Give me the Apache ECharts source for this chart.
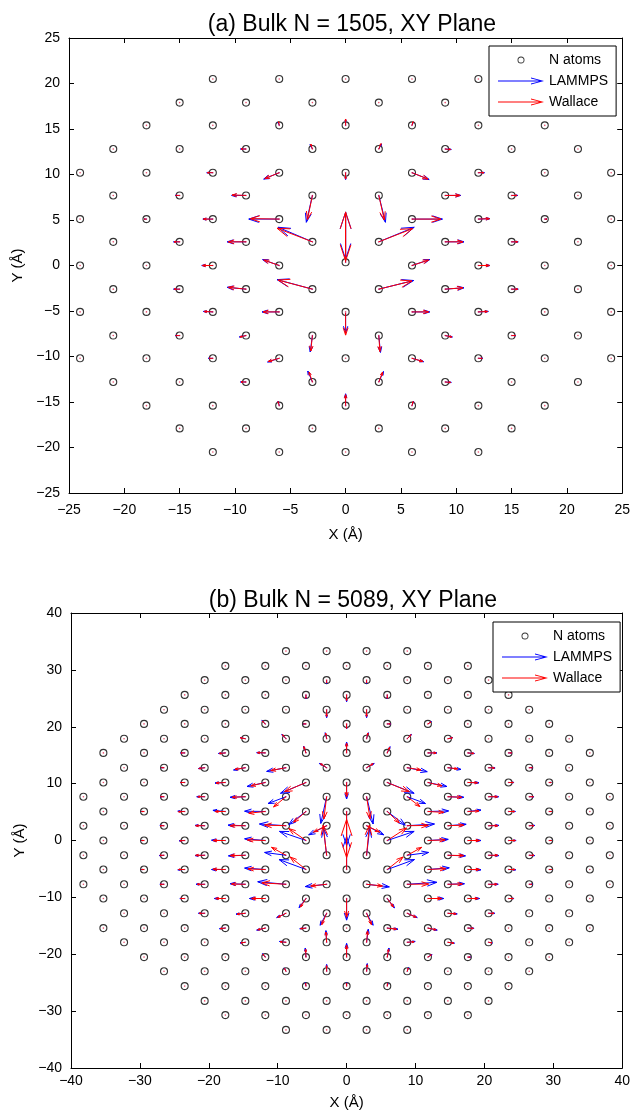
<!DOCTYPE html>
<html><head><meta charset="utf-8">
<script src="https://cdn.jsdelivr.net/npm/echarts@6/dist/echarts.min.js"></script>
<style>html,body{margin:0;padding:0;background:#fff}#c{width:633px;height:1117px}</style>
</head><body><div id="c"></div>
<script>
// ---------- Panel (a): Bulk N = 1505 ----------
const titleA = '(a) Bulk N = 1505, XY Plane';
const ticksA = [-25, 25, 5];
const rowsA_y = [20.5, 17.9, 15.4, 12.8, 10.2, 7.7, 5.1, 2.6, 0, -2.6, -5.1, -7.7, -10.2, -12.8, -15.4, -17.9, -20.5];
const rowsA_x = [
  [-12,-6,0,6,12],
  [-15,-9,-3,3,9,15],
  [-18,-12,-6,0,6,12,18],
  [-21,-15,-9,-3,3,9,15,21],
  [-24,-18,-12,-6,0,6,12,18,24],
  [-21,-15,-9,-3,3,9,15,21],
  [-24,-18,-12,-6,6,12,18,24],
  [-21,-15,-9,-3,3,9,15,21],
  [-24,-18,-12,-6,6,12,18,24],
  [-21,-15,-9,-3,3,9,15,21],
  [-24,-18,-12,-6,0,6,12,18,24],
  [-21,-15,-9,-3,3,9,15,21],
  [-24,-18,-12,-6,0,6,12,18,24],
  [-21,-15,-9,-3,3,9,15,21],
  [-18,-12,-6,0,6,12,18],
  [-15,-9,-3,3,9,15],
  [-12,-6,0,6,12]
];
const extraAtomsA = [[0, 0.35]];
// [x, y, dx, dy]
const lammpsA = [
  [0,15.4,0,0.65],[-6,15.4,-0.1,0.35],[6,15.4,0.1,0.35],
  [-9,12.8,-0.5,0],[-3,12.8,-0.2,0.5],[3,12.8,0.25,0.55],[9,12.8,0.55,-0.05],
  [-12,10.2,-0.55,0],[-6,10.2,-1.4,-0.7],[0,10.2,0,-0.75],[6,10.2,1.55,-0.75],[12,10.2,0.55,0],
  [-15,7.7,-0.4,0],[-9,7.7,-1.3,0],[-3,7.7,-0.55,-2.95],[3,7.7,0.6,-2.95],[9,7.7,1.4,0],[15,7.7,0.55,0],
  [-18,5.1,-0.2,0],[-12,5.1,-0.9,0],[-6,5.1,-2.75,0],[6,5.1,2.75,0],[12,5.1,1.05,0.05],[18,5.1,0.2,0],
  [-15,2.6,-0.55,0],[-9,2.6,-1.7,0],[-3,2.6,-3.1,1.6],[3,2.6,3.2,1.6],[9,2.6,1.7,0],[15,2.6,0.6,0],
  [-12,0,-1.0,0],[-6,0,-1.5,0.65],[0,0.35,0,5.5],[0,5.9,0,-5.2],[6,0,1.6,0.65],[12,0,1.05,0],
  [-15,-2.6,-0.55,0],[-9,-2.6,-1.7,0.2],[-3,-2.6,-3.2,1.05],[3,-2.6,3.15,0.95],[9,-2.6,1.7,0.15],[15,-2.6,0.6,0],
  [-12,-5.1,-0.85,0.05],[-6,-5.1,-1.55,0],[0,-5.2,0,-2.2],[6,-5.1,1.6,0],[12,-5.1,0.9,0.05],
  [-15,-7.7,-0.4,0],[-9,-7.7,-0.6,-0.15],[-3,-7.7,-0.2,-1.8],[3,-7.7,0.15,-1.85],[9,-7.7,0.65,-0.15],[15,-7.7,0.4,0],
  [-12,-10.2,-0.4,0],[-6,-10.2,-1.05,-0.4],[6,-10.2,1.05,-0.37],[12,-10.2,0.4,0],
  [-9,-12.8,-0.5,0],[-3,-12.8,-0.42,1.2],[3,-12.8,0.42,1.15],[9,-12.8,0.55,-0.05],
  [-6,-15.4,-0.1,0.5],[0,-15.4,0,1.3],[6,-15.4,0.15,0.5]
];
const wallaceA = [
  [0,15.4,0,0.7],[-6,15.4,-0.05,0.4],[6,15.4,0.1,0.4],
  [-9,12.8,-0.45,0],[-3,12.8,-0.15,0.55],[3,12.8,0.2,0.6],[9,12.8,0.5,-0.05],
  [-12,10.2,-0.5,0],[-6,10.2,-1.3,-0.65],[0,10.2,0,-0.7],[6,10.2,1.45,-0.7],[12,10.2,0.5,0],
  [-15,7.7,-0.35,0],[-9,7.7,-1.25,0.05],[-3,7.7,-0.45,-2.65],[3,7.7,0.5,-2.7],[9,7.7,1.35,0],[15,7.7,0.5,0],
  [-18,5.1,-0.2,0],[-12,5.1,-0.85,0],[-6,5.1,-2.6,0.05],[6,5.1,2.6,0],[12,5.1,1.0,0.05],[18,5.1,0.2,0],
  [-15,2.6,-0.5,0],[-9,2.6,-1.6,0],[-3,2.6,-3.2,1.5],[3,2.6,3.05,1.45],[9,2.6,1.6,0],[15,2.6,0.55,0],
  [-12,0,-0.95,0],[-6,0,-1.4,0.6],[0,0.35,0,5.5],[0,5.9,0,-5.4],[6,0,1.5,0.6],[12,0,1.0,0],
  [-15,-2.6,-0.5,0],[-9,-2.6,-1.6,0.2],[-3,-2.6,-3.1,1.0],[3,-2.6,3.0,0.9],[9,-2.6,1.6,0.15],[15,-2.6,0.55,0],
  [-12,-5.1,-0.8,0.05],[-6,-5.1,-1.45,0],[0,-5.2,0,-2.45],[6,-5.1,1.5,0],[12,-5.1,0.85,0.05],
  [-15,-7.7,-0.35,0],[-9,-7.7,-0.55,-0.15],[-3,-7.7,-0.15,-1.7],[3,-7.7,0.1,-1.75],[9,-7.7,0.6,-0.15],[15,-7.7,0.35,0],
  [-12,-10.2,-0.35,0],[-6,-10.2,-1.0,-0.35],[6,-10.2,1.0,-0.35],[12,-10.2,0.35,0],
  [-9,-12.8,-0.45,0],[-3,-12.8,-0.3,1.1],[3,-12.8,0.35,1.1],[9,-12.8,0.5,-0.05],
  [-6,-15.4,-0.1,0.45],[0,-15.4,0,1.2],[6,-15.4,0.1,0.45]
];

// ---------- Panel (b): Bulk N = 5089 ----------
const titleB = '(b) Bulk N = 5089, XY Plane';
const ticksB = [-40, 40, 10];
const rowsB_y = [33.3,30.7,28.2,25.6,23.0,20.5,17.9,15.4,12.8,10.2,7.7,5.1,2.6,0,-2.6,-5.1,-7.7,-10.2,-12.8,-15.4,-17.9,-20.5,-23.0,-25.6,-28.2,-30.7,-33.3];
const rowsB_x = [
  [-8.8,-2.9,2.9,8.8],
  [-17.6,-11.8,-5.9,0,5.9,11.8,17.6],
  [-20.6,-14.7,-8.8,-2.9,2.9,8.8,14.7,20.6],
  [-23.5,-17.6,-11.8,-5.9,0,5.9,11.8,17.6,23.5],
  [-26.5,-20.6,-14.7,-8.8,-2.9,2.9,8.8,14.7,20.6,26.5],
  [-29.4,-23.5,-17.6,-11.8,-5.9,0,5.9,11.8,17.6,23.5,29.4],
  [-32.3,-26.5,-20.6,-14.7,-8.8,-2.9,2.9,8.8,14.7,20.6,26.5,32.3],
  [-35.3,-29.4,-23.5,-17.6,-11.8,-5.9,0,5.9,11.8,17.6,23.5,29.4,35.3],
  [-32.3,-26.5,-20.6,-14.7,-8.8,-2.9,2.9,8.8,14.7,20.6,26.5,32.3],
  [-35.3,-29.4,-23.5,-17.6,-11.8,-5.9,0,5.9,11.8,17.6,23.5,29.4,35.3],
  [-38.2,-32.3,-26.5,-20.6,-14.7,-8.8,-2.9,2.9,8.8,14.7,20.6,26.5,32.3,38.2],
  [-35.3,-29.4,-23.5,-17.6,-11.8,-5.9,0,5.9,11.8,17.6,23.5,29.4,35.3],
  [-38.2,-32.3,-26.5,-20.6,-14.7,-8.8,-2.9,2.9,8.8,14.7,20.6,26.5,32.3,38.2],
  [-35.3,-29.4,-23.5,-17.6,-11.8,-5.9,5.9,11.8,17.6,23.5,29.4,35.3],
  [-38.2,-32.3,-26.5,-20.6,-14.7,-8.8,-2.9,2.9,8.8,14.7,20.6,26.5,32.3,38.2],
  [-35.3,-29.4,-23.5,-17.6,-11.8,-5.9,0,5.9,11.8,17.6,23.5,29.4,35.3],
  [-38.2,-32.3,-26.5,-20.6,-14.7,-8.8,-2.9,2.9,8.8,14.7,20.6,26.5,32.3,38.2],
  [-35.3,-29.4,-23.5,-17.6,-11.8,-5.9,0,5.9,11.8,17.6,23.5,29.4,35.3],
  [-32.3,-26.5,-20.6,-14.7,-8.8,-2.9,2.9,8.8,14.7,20.6,26.5,32.3],
  [-35.3,-29.4,-23.5,-17.6,-11.8,-5.9,0,5.9,11.8,17.6,23.5,29.4,35.3],
  [-32.3,-26.5,-20.6,-14.7,-8.8,-2.9,2.9,8.8,14.7,20.6,26.5,32.3],
  [-29.4,-23.5,-17.6,-11.8,-5.9,0,5.9,11.8,17.6,23.5,29.4],
  [-26.5,-20.6,-14.7,-8.8,-2.9,2.9,8.8,14.7,20.6,26.5],
  [-23.5,-17.6,-11.8,-5.9,0,5.9,11.8,17.6,23.5],
  [-20.6,-14.7,-8.8,-2.9,2.9,8.8,14.7,20.6],
  [-17.6,-11.8,-5.9,0,5.9,11.8,17.6],
  [-8.8,-2.9,2.9,8.8]
];
const lammpsB = [
  [-2.9,28.2,0,-0.6],[2.9,28.2,0,-0.6],
  [-5.9,25.6,0,-0.7],[0,25.6,0,-1.2],[5.9,25.6,0,-0.7],
  [-2.9,23.0,0,-1.4],[2.9,23.0,0,-1.4],
  [-11.8,20.5,-0.5,0.6],[-5.9,20.5,-0.4,0],[0,20.5,0,-0.9],[5.9,20.5,0.5,0],[11.8,20.5,0.5,0.4],
  [-14.7,17.9,-0.75,0.2],[-8.8,17.9,-0.6,0.75],[-2.9,17.9,-0.2,1.05],[2.9,17.9,0.25,1.05],[8.8,17.9,0.6,0.75],[14.7,17.9,0.7,0.2],
  [-23.5,15.4,-0.6,0],[-17.6,15.4,-1.0,-0.1],[-11.8,15.4,-1.25,0.05],[-5.9,15.4,-0.35,1.2],[0,15.4,0,1.9],[5.9,15.4,0.4,1.1],[11.8,15.4,1.3,0],[17.6,15.4,0.95,-0.1],[23.5,15.4,0.5,0],
  [-26.5,12.8,-0.4,0],[-20.6,12.8,-0.9,-0.15],[-14.7,12.8,-1.7,-0.4],[-8.8,12.8,-2.8,-0.65],[-2.9,12.8,-1.05,0.75],[2.9,12.8,1.1,0.75],[8.8,12.8,2.9,-0.7],[14.7,12.8,1.9,-0.3],[20.6,12.8,0.95,-0.05],[26.5,12.8,0.5,0],
  [-23.5,10.2,-0.67,0],[-17.6,10.2,-1.5,-0.1],[-11.8,10.2,-2.65,-0.7],[-5.9,10.2,-3.7,-1.9],[0,10.2,0,-2.9],[5.9,10.2,3.9,-1.9],[11.8,10.2,2.75,-0.7],[17.6,10.2,1.6,-0.05],[23.5,10.2,0.8,0],[29.4,10.2,0.3,0],
  [-26.5,7.7,-0.58,0],[-20.6,7.7,-1.15,0],[-14.7,7.7,-2.2,-0.1],[-8.8,7.7,-2.6,-1.2],[-2.9,7.7,-0.85,-4.7],[2.9,7.7,0.95,-4.8],[8.8,7.7,2.65,-1.2],[14.7,7.7,2.3,-0.1],[20.6,7.7,1.45,0],[26.5,7.7,0.7,0],
  [-29.4,5.1,-0.4,0],[-23.5,5.1,-1.0,0.05],[-17.6,5.1,-1.8,0.2],[-11.8,5.1,-3.0,0.05],[-5.9,5.1,-2.5,-2.3],[0,5.1,0,-6.0],[5.9,5.1,2.6,-2.4],[11.8,5.1,3.0,0.1],[17.6,5.1,1.9,0.25],[23.5,5.1,1.0,0],[29.4,5.1,0.4,0],
  [-26.5,2.6,-0.6,0.05],[-20.6,2.6,-1.4,0.05],[-14.7,2.6,-2.5,0.1],[-8.8,2.6,-3.85,0.3],[-2.9,2.6,-2.6,-1.6],[2.9,2.6,2.5,-1.6],[8.8,2.6,3.95,0.3],[14.7,2.6,2.65,0.25],[20.6,2.6,1.5,0.05],[26.5,2.6,0.8,0.05],
  [-29.4,0,-0.4,0],[-23.5,0,-0.8,-0.05],[-17.6,0,-2.0,0.05],[-11.8,0,-3.0,0.3],[-5.9,0,-3.85,1.6],[5.9,0,3.9,1.6],[11.8,0,2.95,0.2],[17.6,0,1.9,0],[23.5,0,1.1,0],[29.4,0,0.4,0],
  [-26.5,-2.6,-0.7,-0.05],[-20.6,-2.6,-1.4,-0.05],[-14.7,-2.6,-2.45,-0.1],[-8.8,-2.6,-3.1,0.5],[-2.9,-2.6,-0.45,4.7],[2.9,-2.6,0.45,4.7],[8.8,-2.6,3.1,0.5],[14.7,-2.6,2.55,-0.1],[20.6,-2.6,1.5,-0.05],[26.5,-2.6,0.8,-0.05],
  [-29.4,-5.1,-0.4,0],[-23.5,-5.1,-1.0,-0.05],[-17.6,-5.1,-2.0,0],[-11.8,-5.1,-3.0,0.25],[-5.9,-5.1,-3.9,1.75],[0,-5.1,0,5.8],[5.9,-5.1,3.95,1.75],[11.8,-5.1,3.1,0.3],[17.6,-5.1,1.9,-0.05],[23.5,-5.1,1.05,-0.05],[29.4,-5.1,0.4,0],
  [-26.5,-7.7,-0.6,0],[-20.6,-7.7,-1.25,0],[-14.7,-7.7,-2.2,0.1],[-8.8,-7.7,-4.1,0.45],[-2.9,-7.7,-3.1,-0.4],[2.9,-7.7,3.3,-0.45],[8.8,-7.7,4.3,0.35],[14.7,-7.7,2.4,0.1],[20.6,-7.7,1.4,0],[26.5,-7.7,0.45,0],
  [-23.5,-10.2,-0.7,0],[-17.6,-10.2,-1.6,0],[-11.8,-10.2,-2.3,0],[-5.9,-10.2,-1.0,-1.6],[0,-10.2,0,-3.8],[5.9,-10.2,1.05,-1.65],[11.8,-10.2,2.3,0],[17.6,-10.2,1.7,0],[23.5,-10.2,0.8,0],
  [-20.6,-12.8,-0.9,0],[-14.7,-12.8,-1.35,-0.15],[-8.8,-12.8,-1.35,-0.75],[-2.9,-12.8,-0.95,-2.1],[2.9,-12.8,0.95,-2.1],[8.8,-12.8,1.45,-0.75],[14.7,-12.8,1.35,-0.1],[20.6,-12.8,0.9,0],
  [-17.6,-15.4,-0.85,-0.1],[-11.8,-15.4,-1.25,-0.35],[-5.9,-15.4,-0.9,-0.1],[5.9,-15.4,1.55,-0.2],[11.8,-15.4,1.35,-0.35],[17.6,-15.4,0.9,-0.05],
  [-14.7,-17.9,-0.75,-0.1],[-8.8,-17.9,-0.95,0.15],[-2.9,-17.9,-0.1,2.05],[2.9,-17.9,0.25,2.3],[8.8,-17.9,1.15,0.15],[14.7,-17.9,0.95,-0.15],[20.6,-17.9,0.55,-0.1],
  [-11.8,-20.5,-0.4,0.6],[-5.9,-20.5,-0.1,1.6],[0,-20.5,0,2.4],[5.9,-20.5,0.25,1.6],[11.8,-20.5,0.6,0.45],[17.6,-20.5,0.4,0],
  [-8.8,-23.0,-0.25,0.6],[-2.9,-23.0,0,1.2],[2.9,-23.0,0.1,1.35],[8.8,-23.0,0.2,0.65],
  [-5.9,-25.6,-0.1,0.6],[0,-25.6,0,0.6],[5.9,-25.6,0.1,0.5]
];
const wallaceB = [
  [-2.9,28.2,0,-0.5],[2.9,28.2,0,-0.5],
  [-5.9,25.6,0,-0.6],[0,25.6,0,-1.0],[5.9,25.6,0,-0.6],
  [-2.9,23.0,0,-1.2],[2.9,23.0,0,-1.2],
  [-11.8,20.5,-0.45,0.5],[-5.9,20.5,-0.35,0],[0,20.5,0,-0.8],[5.9,20.5,0.45,0],[11.8,20.5,0.45,0.35],
  [-14.7,17.9,-0.7,0.15],[-8.8,17.9,-0.5,0.7],[-2.9,17.9,-0.15,1.0],[2.9,17.9,0.2,1.0],[8.8,17.9,0.55,0.7],[14.7,17.9,0.65,0.15],
  [-23.5,15.4,-0.55,0],[-17.6,15.4,-0.9,-0.1],[-11.8,15.4,-1.15,0.05],[-5.9,15.4,-0.3,1.1],[0,15.4,0,1.7],[5.9,15.4,0.35,1.0],[11.8,15.4,1.2,0],[17.6,15.4,0.9,-0.1],[23.5,15.4,0.45,0],
  [-26.5,12.8,-0.35,0],[-20.6,12.8,-0.85,-0.15],[-14.7,12.8,-1.5,-0.3],[-8.8,12.8,-2.2,-0.5],[-2.9,12.8,-0.9,0.7],[2.9,12.8,0.95,0.7],[8.8,12.8,2.0,-0.4],[14.7,12.8,1.4,-0.2],[20.6,12.8,0.85,-0.05],[26.5,12.8,0.45,0],
  [-23.5,10.2,-0.6,0],[-17.6,10.2,-1.35,-0.1],[-11.8,10.2,-2.1,-0.6],[-5.9,10.2,-3.1,-1.6],[0,10.2,0,-2.5],[5.9,10.2,3.2,-1.6],[11.8,10.2,2.05,-0.6],[17.6,10.2,1.4,-0.05],[23.5,10.2,0.7,0],[29.4,10.2,0.3,0],
  [-26.5,7.7,-0.5,0],[-20.6,7.7,-1.0,0],[-14.7,7.7,-1.9,-0.1],[-8.8,7.7,-1.8,-1.8],[-2.9,7.7,-0.4,-3.9],[2.9,7.7,0.5,-3.9],[8.8,7.7,1.85,-1.75],[14.7,7.7,2.0,-0.1],[20.6,7.7,1.3,0],[26.5,7.7,0.6,0],
  [-29.4,5.1,-0.35,0],[-23.5,5.1,-0.9,-0.05],[-17.6,5.1,-1.5,0],[-11.8,5.1,-2.4,-0.3],[-5.9,5.1,-1.8,-1.9],[0,5.1,0,-8.1],[5.9,5.1,1.75,-2.0],[11.8,5.1,2.3,-0.15],[17.6,5.1,1.6,0.1],[23.5,5.1,0.9,0],[29.4,5.1,0.35,0],
  [-26.5,2.6,-0.55,0],[-20.6,2.6,-1.3,0],[-14.7,2.6,-2.2,0],[-8.8,2.6,-3.1,0.1],[-2.9,2.6,-1.9,-1.1],[2.9,2.6,1.9,-1.1],[8.8,2.6,3.05,0.05],[14.7,2.6,2.3,0.1],[20.6,2.6,1.35,0],[26.5,2.6,0.7,0],
  [-29.4,0,-0.35,0],[-23.5,0,-0.7,-0.05],[-17.6,0,-1.8,0],[-11.8,0,-2.6,0.1],[-5.9,0,-2.5,2.1],[5.9,0,2.8,2.2],[11.8,0,2.5,0.1],[17.6,0,1.7,0],[23.5,0,1.0,0],[29.4,0,0.35,0],
  [-26.5,-2.6,-0.6,0],[-20.6,-2.6,-1.3,0],[-14.7,-2.6,-2.2,-0.05],[-8.8,-2.6,-2.1,1.4],[-2.9,-2.6,-0.5,5.3],[2.9,-2.6,0.4,5.3],[8.8,-2.6,2.1,1.4],[14.7,-2.6,2.3,-0.05],[20.6,-2.6,1.35,0],[26.5,-2.6,0.7,0],
  [-29.4,-5.1,-0.35,0],[-23.5,-5.1,-0.9,0],[-17.6,-5.1,-1.8,0.05],[-11.8,-5.1,-2.5,0.1],[-5.9,-5.1,-2.3,2.2],[0,-5.1,0,8.8],[5.9,-5.1,2.3,2.2],[11.8,-5.1,2.6,0.15],[17.6,-5.1,1.7,0],[23.5,-5.1,0.95,0],[29.4,-5.1,0.35,0],
  [-26.5,-7.7,-0.55,0],[-20.6,-7.7,-1.1,0],[-14.7,-7.7,-2.0,0.05],[-8.8,-7.7,-3.5,0.25],[-2.9,-7.7,-2.3,-0.3],[2.9,-7.7,2.3,-0.3],[8.8,-7.7,3.1,0.05],[14.7,-7.7,2.1,0.05],[20.6,-7.7,1.25,0],[26.5,-7.7,0.4,0],
  [-23.5,-10.2,-0.6,0],[-17.6,-10.2,-1.4,0],[-11.8,-10.2,-2.0,0],[-5.9,-10.2,-0.8,-1.5],[0,-10.2,0,-3.3],[5.9,-10.2,0.9,-1.5],[11.8,-10.2,2.0,0],[17.6,-10.2,1.5,0],[23.5,-10.2,0.7,0],
  [-20.6,-12.8,-0.8,0],[-14.7,-12.8,-1.2,-0.15],[-8.8,-12.8,-1.2,-0.7],[-2.9,-12.8,-0.7,-2.0],[2.9,-12.8,0.7,-2.0],[8.8,-12.8,1.3,-0.7],[14.7,-12.8,1.2,-0.1],[20.6,-12.8,0.8,0],
  [-17.6,-15.4,-0.75,-0.1],[-11.8,-15.4,-1.1,-0.3],[-5.9,-15.4,-0.8,-0.1],[5.9,-15.4,1.35,-0.2],[11.8,-15.4,1.2,-0.3],[17.6,-15.4,0.8,-0.05],
  [-14.7,-17.9,-0.65,-0.1],[-8.8,-17.9,-0.85,0.1],[-2.9,-17.9,-0.1,1.8],[2.9,-17.9,0.15,2.0],[8.8,-17.9,1.0,0.1],[14.7,-17.9,0.85,-0.15],[20.6,-17.9,0.5,-0.1],
  [-11.8,-20.5,-0.35,0.5],[-5.9,-20.5,-0.05,1.4],[0,-20.5,0,2.1],[5.9,-20.5,0.2,1.4],[11.8,-20.5,0.5,0.4],[17.6,-20.5,0.35,0],
  [-8.8,-23.0,-0.2,0.5],[-2.9,-23.0,0,1.0],[2.9,-23.0,0.1,1.15],[8.8,-23.0,0.15,0.55],
  [-5.9,-25.6,-0.05,0.5],[0,-25.6,0,0.5],[5.9,-25.6,0.05,0.45]
];

const legendNames = ['N atoms', 'LAMMPS', 'Wallace'];
const axisNameX = 'X (Å)';
const axisNameY = 'Y (Å)';

// ---------- helpers ----------
function atomsFrom(rowsY, rowsX, extra) {
  const out = [];
  rowsX.forEach((xs, i) => xs.forEach(x => out.push([x, rowsY[i]])));
  (extra || []).forEach(p => out.push(p));
  return out;
}
const atomsA = atomsFrom(rowsA_y, rowsA_x, extraAtomsA);
const atomsB = atomsFrom(rowsB_y, rowsB_x, []);

const BLUE = '#0000ff', RED = '#ff0000';
const FONT = '"Liberation Sans", Arial, Helvetica, sans-serif';

function arrowRender(color) {
  return function (params, api) {
    const x = api.value(0), y = api.value(1), dx = api.value(2), dy = api.value(3);
    const p0 = api.coord([x, y]);
    const p1 = api.coord([x + dx, y + dy]);
    const ux = p1[0] - p0[0], uy = p1[1] - p0[1];
    const a = 0.33, b = 0.33;
    const h1 = [p1[0] - a * (ux + b * uy), p1[1] - a * (uy - b * ux)];
    const h2 = [p1[0] - a * (ux - b * uy), p1[1] - a * (uy + b * ux)];
    const st = { stroke: color, lineWidth: 1, fill: null };
    return {
      type: 'group',
      children: [
        { type: 'polyline', shape: { points: [p0, p1] }, style: st },
        { type: 'polyline', shape: { points: [h1, p1, h2] }, style: st }
      ]
    };
  };
}
const fmt = v => (v < 0 ? '\u2212' + Math.abs(v) : String(v));

function xAxes(grid, t, gap, margin) {
  const common = {
    gridIndex: grid, type: 'value', min: t[0], max: t[1], interval: t[2],
    axisLine: { onZero: false, lineStyle: { color: '#000', width: 1 } },
    axisTick: { inside: true, length: 5, lineStyle: { color: '#000' } },
    splitLine: { show: false }
  };
  return [
    Object.assign({}, common, {
      position: 'bottom',
      axisLabel: { color: '#000', fontSize: 14, fontFamily: FONT, margin: margin, formatter: fmt },
      name: axisNameX, nameLocation: 'middle', nameGap: gap,
      nameTextStyle: { color: '#000', fontSize: 15, fontFamily: FONT }
    }),
    Object.assign({}, common, { position: 'top', axisLabel: { show: false } })
  ];
}
function yAxes(grid, t, gap) {
  const common = {
    gridIndex: grid, type: 'value', min: t[0], max: t[1], interval: t[2],
    axisLine: { onZero: false, lineStyle: { color: '#000', width: 1 } },
    axisTick: { inside: true, length: 5, lineStyle: { color: '#000' } },
    splitLine: { show: false }
  };
  return [
    Object.assign({}, common, {
      position: 'left',
      axisLabel: { color: '#000', fontSize: 14, fontFamily: FONT, margin: 9, formatter: fmt },
      name: axisNameY, nameLocation: 'middle', nameGap: gap,
      nameTextStyle: { color: '#000', fontSize: 15, fontFamily: FONT }
    }),
    Object.assign({}, common, { position: 'right', axisLabel: { show: false } })
  ];
}

const ARROW_ICON = 'path://M0,3.1L44,3.1L44,3.9L0,3.9Z M33,0L46,3.5L33,7L33,6.1L43.2,3.5L33,0.9Z';
const RING_ICON = 'path://M3.5,0A3.5,3.5,0,1,1,3.49,0Z M3.5,0.9A2.6,2.6,0,1,0,3.51,0.9Z';
function legendAt(left, top) {
  return {
    orient: 'vertical', left: left, top: top,
    padding: [7, 8, 7, 9], itemGap: 7, itemWidth: 46, itemHeight: 7,
    backgroundColor: '#fff', borderColor: '#000', borderWidth: 1,
    selectedMode: false,
    textStyle: { color: '#000', fontSize: 14, fontFamily: FONT },
    data: [
      { name: legendNames[0], icon: RING_ICON, itemStyle: { color: '#000', borderWidth: 0 } },
      { name: legendNames[1], icon: ARROW_ICON, itemStyle: { color: BLUE, borderWidth: 0 } },
      { name: legendNames[2], icon: ARROW_ICON, itemStyle: { color: RED, borderWidth: 0 } }
    ]
  };
}

function panelSeries(xi, yi, atoms, lam, wal) {
  return [
    { name: legendNames[0], type: 'scatter', xAxisIndex: xi, yAxisIndex: yi, data: atoms,
      symbol: 'circle', symbolSize: 7, silent: true, z: 2,
      itemStyle: { color: 'rgba(0,0,0,0)', borderColor: '#000', borderWidth: 1.1 } },
    { name: 'center', type: 'scatter', xAxisIndex: xi, yAxisIndex: yi, data: atoms,
      symbol: 'circle', symbolSize: 1.6, silent: true, z: 2,
      itemStyle: { color: '#e8204a' } },
    { name: legendNames[1], type: 'custom', xAxisIndex: xi, yAxisIndex: yi, data: lam,
      renderItem: arrowRender(BLUE), itemStyle: { color: BLUE }, silent: true, z: 3 },
    { name: legendNames[2], type: 'custom', xAxisIndex: xi, yAxisIndex: yi, data: wal,
      renderItem: arrowRender(RED), itemStyle: { color: RED }, silent: true, z: 4 }
  ];
}

const chart = echarts.init(document.getElementById('c'), null, { renderer: 'canvas' });
chart.setOption({
  animation: false,
  backgroundColor: '#fff',
  title: [
    { text: titleA, left: 347, top: 8, textAlign: 'center',
      textStyle: { color: '#000', fontSize: 23, fontWeight: 'normal', fontFamily: FONT } },
    { text: titleB, left: 348, top: 584, textAlign: 'center',
      textStyle: { color: '#000', fontSize: 23, fontWeight: 'normal', fontFamily: FONT } }
  ],
  grid: [
    { left: 69, top: 38, width: 555, height: 455 },
    { left: 71, top: 613, width: 554, height: 455 }
  ],
  legend: [legendAt(489, 46), legendAt(493, 622)],
  xAxis: [].concat(xAxes(0, ticksA, 34, 10), xAxes(1, ticksB, 27, 6)),
  yAxis: [].concat(yAxes(0, ticksA, 42), yAxes(1, ticksB, 42)),
  series: [].concat(
    panelSeries(0, 0, atomsA, lammpsA, wallaceA),
    panelSeries(2, 2, atomsB, lammpsB, wallaceB)
  )
});
</script></body></html>
